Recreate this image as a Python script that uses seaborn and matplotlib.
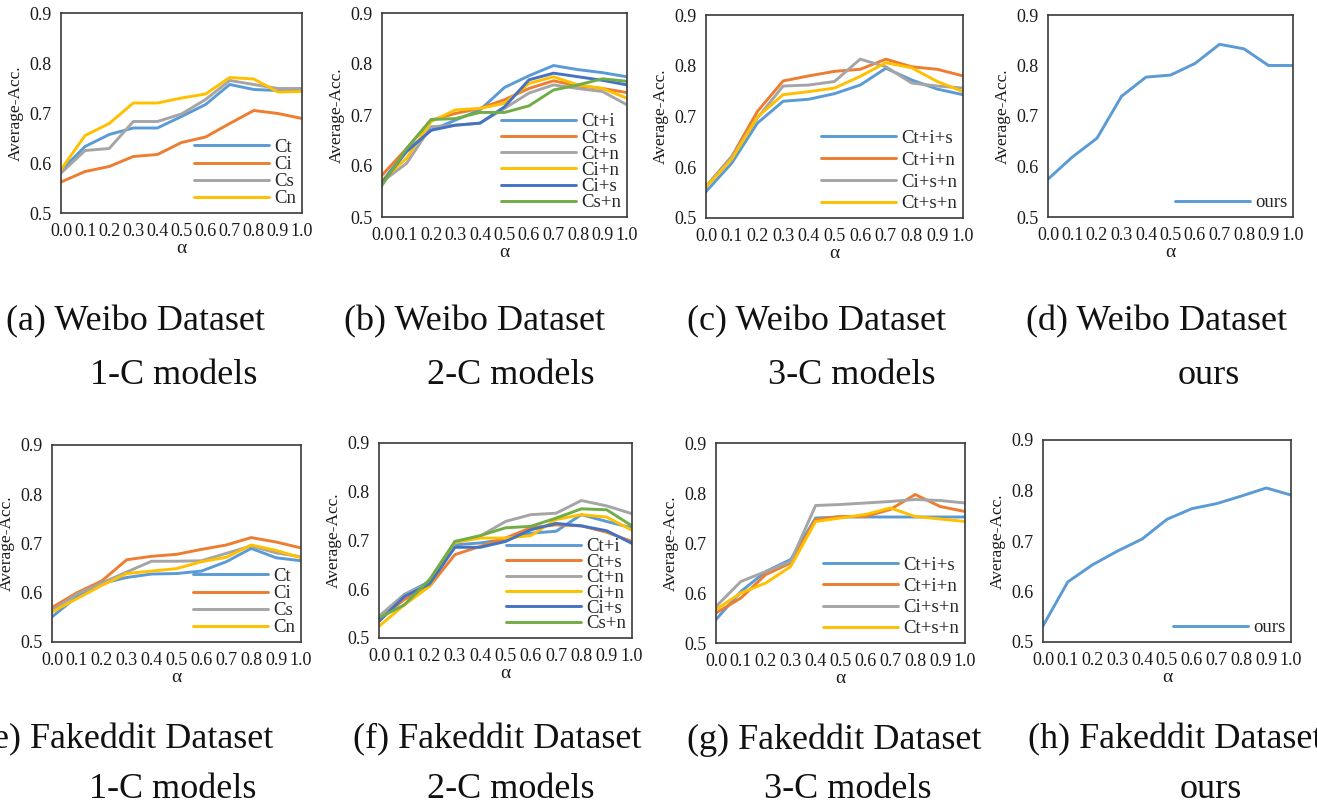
import numpy as np
import pandas as pd
import matplotlib
matplotlib.use("Agg")
import matplotlib.pyplot as plt
import seaborn as sns

# alpha values on the x axis
alpha = [0.0, 0.1, 0.2, 0.3, 0.4, 0.5, 0.6, 0.7, 0.8, 0.9, 1.0]
alpha_labels = ["0.0", "0.1", "0.2", "0.3", "0.4", "0.5", "0.6", "0.7", "0.8", "0.9", "1.0"]
acc_ticks = [0.5, 0.6, 0.7, 0.8, 0.9]
acc_labels = ["0.5", "0.6", "0.7", "0.8", "0.9"]

# --- Weibo ---
wb_ct = [0.585, 0.633, 0.657, 0.670, 0.670, 0.693, 0.717, 0.757, 0.747, 0.745, 0.745]
wb_ci = [0.562, 0.583, 0.593, 0.613, 0.617, 0.641, 0.652, 0.679, 0.705, 0.699, 0.689]
wb_cs = [0.580, 0.625, 0.629, 0.683, 0.683, 0.698, 0.727, 0.765, 0.757, 0.749, 0.749]
wb_cn = [0.587, 0.655, 0.679, 0.720, 0.720, 0.730, 0.738, 0.771, 0.768, 0.742, 0.743]

wb_ct_i = [0.570, 0.630, 0.670, 0.690, 0.710, 0.754, 0.777, 0.797, 0.789, 0.783, 0.775]
wb_ct_s = [0.582, 0.634, 0.690, 0.703, 0.713, 0.730, 0.752, 0.767, 0.757, 0.752, 0.744]
wb_ct_n = [0.569, 0.605, 0.677, 0.680, 0.684, 0.713, 0.743, 0.759, 0.752, 0.746, 0.720]
wb_ci_n = [0.572, 0.615, 0.687, 0.710, 0.713, 0.723, 0.762, 0.775, 0.759, 0.752, 0.733]
wb_ci_s = [0.567, 0.628, 0.670, 0.680, 0.684, 0.716, 0.769, 0.782, 0.775, 0.768, 0.759]
wb_cs_n = [0.562, 0.634, 0.691, 0.693, 0.705, 0.705, 0.718, 0.749, 0.759, 0.771, 0.766]

wb_ct_i_s = [0.552, 0.608, 0.687, 0.730, 0.734, 0.745, 0.762, 0.795, 0.772, 0.754, 0.743]
wb_ct_i_n = [0.562, 0.621, 0.710, 0.770, 0.780, 0.789, 0.793, 0.813, 0.798, 0.793, 0.780]
wb_ci_s_n = [0.562, 0.621, 0.697, 0.760, 0.762, 0.769, 0.813, 0.798, 0.766, 0.760, 0.756]
wb_ct_s_n = [0.561, 0.616, 0.699, 0.743, 0.749, 0.756, 0.779, 0.806, 0.796, 0.769, 0.749]

wb_ours = [0.575, 0.619, 0.656, 0.739, 0.777, 0.781, 0.804, 0.842, 0.833, 0.800, 0.800]

# --- Fakeddit ---
fd_ct = [0.551, 0.592, 0.619, 0.631, 0.638, 0.639, 0.644, 0.663, 0.690, 0.671, 0.665]
fd_ci = [0.570, 0.600, 0.624, 0.667, 0.674, 0.678, 0.688, 0.697, 0.712, 0.703, 0.691]
fd_cs = [0.564, 0.597, 0.620, 0.642, 0.664, 0.664, 0.665, 0.680, 0.695, 0.681, 0.673]
fd_cn = [0.561, 0.588, 0.615, 0.639, 0.644, 0.649, 0.663, 0.672, 0.697, 0.686, 0.671]

fd_ct_i = [0.544, 0.589, 0.616, 0.691, 0.695, 0.702, 0.715, 0.719, 0.753, 0.739, 0.726]
fd_ct_s = [0.538, 0.579, 0.606, 0.671, 0.688, 0.705, 0.726, 0.732, 0.730, 0.717, 0.698]
fd_ct_n = [0.544, 0.589, 0.613, 0.698, 0.709, 0.739, 0.753, 0.756, 0.782, 0.771, 0.755]
fd_ci_n = [0.524, 0.568, 0.606, 0.696, 0.705, 0.705, 0.710, 0.743, 0.753, 0.748, 0.721]
fd_ci_s = [0.534, 0.585, 0.611, 0.686, 0.686, 0.698, 0.722, 0.735, 0.730, 0.720, 0.694]
fd_cs_n = [0.541, 0.568, 0.620, 0.698, 0.710, 0.726, 0.729, 0.746, 0.765, 0.763, 0.730]

fd_ct_i_s = [0.547, 0.603, 0.643, 0.667, 0.750, 0.752, 0.752, 0.752, 0.752, 0.752, 0.752]
fd_ct_i_n = [0.560, 0.590, 0.637, 0.660, 0.747, 0.753, 0.753, 0.767, 0.797, 0.773, 0.763]
fd_ci_s_n = [0.573, 0.623, 0.643, 0.663, 0.775, 0.777, 0.780, 0.783, 0.787, 0.785, 0.780]
fd_ct_s_n = [0.567, 0.600, 0.620, 0.653, 0.743, 0.750, 0.757, 0.770, 0.753, 0.748, 0.743]

fd_ours = [0.532, 0.619, 0.653, 0.680, 0.704, 0.743, 0.764, 0.774, 0.789, 0.805, 0.791]

# Excel-like colours
c_lblue, c_orange, c_gray, c_gold, c_dblue, c_green = (
    "#5B9BD5", "#ED7D31", "#A5A5A5", "#FFC000", "#4472C4", "#70AD47")

one_c = {"series": ["Ct", "Ci", "Cs", "Cn"],
         "colors": [c_lblue, c_orange, c_gray, c_gold]}
two_c = {"series": ["Ct+i", "Ct+s", "Ct+n", "Ci+n", "Ci+s", "Cs+n"],
         "colors": [c_lblue, c_orange, c_gray, c_gold, c_dblue, c_green]}
three_c = {"series": ["Ct+i+s", "Ct+i+n", "Ci+s+n", "Ct+s+n"],
           "colors": [c_lblue, c_orange, c_gray, c_gold]}
ours_c = {"series": ["ours"], "colors": [c_lblue]}

# (values, group, axes box in pixels [x0, x1, y0, y1], legend spacing, caption lines)
panels = [
    ([wb_ct, wb_ci, wb_cs, wb_cn], one_c, (61, 302, 13, 213), 0.0,
     ("(a) Weibo Dataset", 135, 322), ("1-C models", 174, 375)),
    ([wb_ct_i, wb_ct_s, wb_ct_n, wb_ci_n, wb_ci_s, wb_cs_n], two_c, (382, 627, 13, 217), -0.05,
     ("(b) Weibo Dataset", 475, 322), ("2-C models", 511, 375)),
    ([wb_ct_i_s, wb_ct_i_n, wb_ci_s_n, wb_ct_s_n], three_c, (706, 963, 15, 218), 0.25,
     ("(c) Weibo Dataset", 817, 322), ("3-C models", 852, 375)),
    ([wb_ours], ours_c, (1048, 1293, 15, 217), 0.0,
     ("(d) Weibo Dataset", 1157, 322), ("ours", 1209, 375)),
    ([fd_ct, fd_ci, fd_cs, fd_cn], one_c, (52, 301, 445, 642), 0.0,
     ("(e) Fakeddit Dataset", 127, 740), ("1-C models", 173, 790)),
    ([fd_ct_i, fd_ct_s, fd_ct_n, fd_ci_n, fd_ci_s, fd_cs_n], two_c, (379, 632, 443, 638), -0.09,
     ("(f) Fakeddit Dataset", 497, 740), ("2-C models", 511, 790)),
    ([fd_ct_i_s, fd_ct_i_n, fd_ci_s_n, fd_ct_s_n], three_c, (716, 965, 443, 643), 0.22,
     ("(g) Fakeddit Dataset", 834, 740), ("3-C models", 848, 790)),
    ([fd_ours], ours_c, (1043, 1291, 440, 642), 0.0,
     ("(h) Fakeddit Dataset", 1175, 740), ("ours", 1211, 790)),
]

sns.set_theme(style="white")
plt.rcParams["font.family"] = ["Liberation Serif", "DejaVu Serif"]

W, H = 1317, 809
fig = plt.figure(figsize=(W / 100, H / 100), dpi=100)

for values, group, box, lspace, cap1, cap2 in panels:
    x0, x1, y0, y1 = box
    ax = fig.add_axes([x0 / W, 1 - y1 / H, (x1 - x0) / W, (y1 - y0) / H])

    df = pd.concat([pd.DataFrame({"alpha": alpha, "acc": v, "model": name})
                    for v, name in zip(values, group["series"])])
    sns.lineplot(data=df, x="alpha", y="acc", hue="model",
                 hue_order=group["series"], palette=group["colors"],
                 linewidth=2.1, ax=ax, solid_joinstyle="round")

    ax.set_xlim(0, 1)
    ax.set_ylim(0.5, 0.9)
    ax.set_xticks(alpha)
    ax.set_xticklabels(alpha_labels)
    ax.set_yticks(acc_ticks)
    ax.set_yticklabels(acc_labels)
    ax.tick_params(axis="x", direction="in", length=5, width=1.2,
                   colors="#3a3a3a", labelcolor="#1a1a1a", labelsize=13, pad=7)
    ax.tick_params(axis="y", length=0, labelcolor="#1a1a1a", labelsize=13, pad=7)
    for s in ax.spines.values():
        s.set_color("#3a3a3a")
        s.set_linewidth(1.2)
    ax.set_xlabel("α", fontsize=14, labelpad=0, color="#1a1a1a")
    ax.set_ylabel("Average-Acc.", fontsize=12.5, labelpad=4, color="#1a1a1a")

    sns.move_legend(ax, "lower right", frameon=False, title=None,
                    fontsize=13.5, handlelength=4, labelspacing=lspace,
                    borderaxespad=0.0, borderpad=0.3, handletextpad=0.3)

    for text, cx, cy in (cap1, cap2):
        fig.text(cx / W, 1 - cy / H, text, ha="center", va="center",
                 fontsize=26, color="#111111")

fig.savefig("out.png", dpi=100)
